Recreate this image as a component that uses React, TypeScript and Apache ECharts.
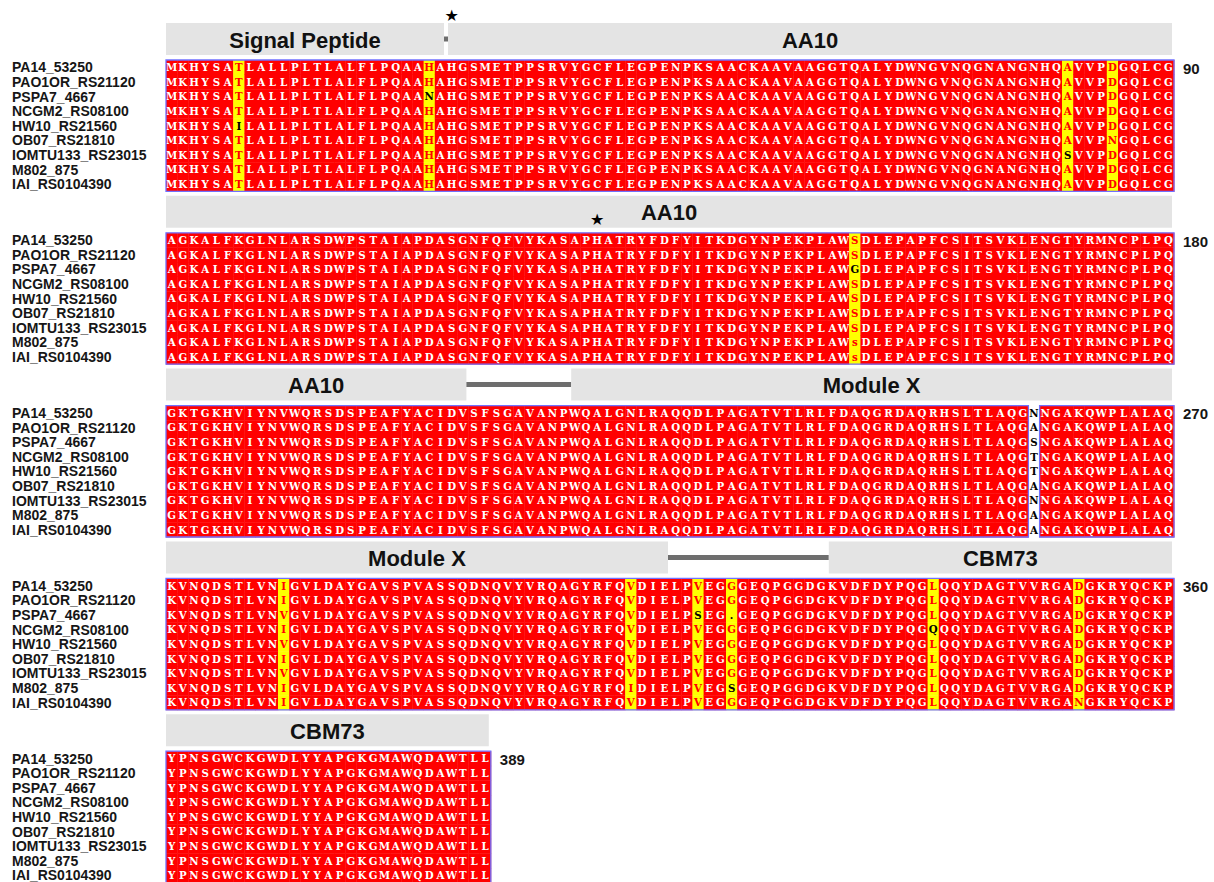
import React, { useEffect, useRef } from "react";
import * as echarts from "echarts";

// ---- data -------------------------------------------------------------

const strains = [
  "PA14_53250",
  "PAO1OR_RS21120",
  "PSPA7_4667",
  "NCGM2_RS08100",
  "HW10_RS21560",
  "OB07_RS21810",
  "IOMTU133_RS23015",
  "M802_875",
  "IAI_RS0104390",
];

// PA14_53250 sequence, one string per 90-residue line
const referenceLines = [
  "MKHYSATLALLPLTLALFLPQAAHAHGSMETPPSRVYGCFLEGPENPKSAACKAAVAAGGTQALYDWNGVNQGNANGNHQAVVPDGQLCG",
  "AGKALFKGLNLARSDWPSTAIAPDASGNFQFVYKASAPHATRYFDFYITKDGYNPEKPLAWSDLEPAPFCSITSVKLENGTYRMNCPLPQ",
  "GKTGKHVIYNVWQRSDSPEAFYACIDVSFSGAVANPWQALGNLRAQQDLPAGATVTLRLFDAQGRDAQRHSLTLAQGNNGAKQWPLALAQ",
  "KVNQDSTLVNIGVLDAYGAVSPVASSQDNQVYVRQAGYRFQVDIELPVEGGGEQPGGDGKVDFDYPQGLQQYDAGTVVRGADGKRYQCKP",
  "YPNSGWCKGWDLYYAPGKGMAWQDAWTLL",
];

// differences from PA14_53250: [strain, alignment position, residue]
const substitutions: [string, number, string][] = [
  ["HW10_RS21560", 7, "I"],
  ["PSPA7_4667", 24, "N"],
  ["IOMTU133_RS23015", 81, "S"],
  ["OB07_RS21810", 85, "N"],
  ["PSPA7_4667", 152, "G"],
  ["M802_875", 152, "s"],
  ["IAI_RS0104390", 152, "s"],
  ["PAO1OR_RS21120", 258, "A"],
  ["PSPA7_4667", 258, "S"],
  ["NCGM2_RS08100", 258, "T"],
  ["HW10_RS21560", 258, "T"],
  ["OB07_RS21810", 258, "A"],
  ["M802_875", 258, "A"],
  ["IAI_RS0104390", 258, "A"],
  ["PSPA7_4667", 281, "V"],
  ["HW10_RS21560", 281, "V"],
  ["IOMTU133_RS23015", 281, "V"],
  ["M802_875", 312, "I"],
  ["PSPA7_4667", 318, "S"],
  ["PSPA7_4667", 321, "."],
  ["M802_875", 321, "S"],
  ["NCGM2_RS08100", 339, "Q"],
  ["IAI_RS0104390", 352, "N"],
];

const domainNames = ["Signal Peptide", "AA10", "Module X", "CBM73"];
const domainStarts = [1, 26, 217, 330];
const domainEnds = [25, 207, 315, 389];

const starredResidues = [26, 129];

const similarGroups = ["ILMV", "DN", "EQ", "KR", "FYW", "ST"];

// ---- layout & style ---------------------------------------------------

const LINE = 90;
const CELL_W = 11.2;
const ROW_H = 14.6;
const GRID_LEFT = 166;
const FIRST_TOP = 60;
const BLOCK_PITCH = 172.8;
const BAR_GAP = 5;
const BAR_H = 32;
const STAR_OFFSETS = [-8, 24];

const RED = "#ff0000";
const YELLOW = "#ffff00";
const FRAME = "#7070ff";
const BAR = "#e4e4e4";
const LINKER = "#6e6e6e";
const SANS = "'Liberation Sans', Arial, Helvetica, sans-serif";
const RESIDUE_FONT = "'DejaVu Serif', serif";

// ---- derived alignment ------------------------------------------------

const seqs: string[][] = strains.map(() => referenceLines.join("").split(""));
substitutions.forEach(([s, pos, r]) => {
  seqs[strains.indexOf(s)][pos - 1] = r;
});
const total = seqs[0].length;
const nBlocks = Math.ceil(total / LINE);

// 0 identical (red), 1 similar (yellow, red letter), 2 dissimilar (yellow, black), 3 unframed
const columnKinds: number[][] = [];
for (let p = 0; p < total; p++) {
  const col = seqs.map((s) => s[p]);
  const up = col.map((c) => c.toUpperCase());
  if (col.every((c) => c === col[0])) {
    columnKinds.push(col.map(() => 0));
    continue;
  }
  const counts: Record<string, number> = {};
  up.forEach((c) => (counts[c] = (counts[c] || 0) + 1));
  const cons = Object.keys(counts).sort((a, b) => counts[b] - counts[a])[0];
  const sim = (c: string) =>
    c === cons || similarGroups.some((g) => g.includes(c) && g.includes(cons));
  const nSim = up.filter(sim).length;
  if (nSim / up.length < 0.7) columnKinds.push(col.map(() => 3));
  else columnKinds.push(up.map((c) => (sim(c) ? 1 : 2)));
}

type Piece = {
  kind: "domain" | "linker" | "star" | "num";
  c0: number;
  c1: number;
  text?: string;
  insetLeft?: number;
  idx?: number;
};

function blockPieces(k: number): Piece[] {
  const b0 = k * LINE + 1;
  const b1 = Math.min(total, (k + 1) * LINE);
  const pieces: Piece[] = [];
  domainNames.forEach((name, i) => {
    const s = Math.max(domainStarts[i], b0);
    const e = Math.min(domainEnds[i], b1);
    if (s <= e) {
      const realStart = s === domainStarts[i] && i > 0;
      pieces.push({ kind: "domain", c0: s - b0, c1: e - b0, text: name, insetLeft: realStart ? 2 : 0 });
    }
    if (i + 1 < domainNames.length) {
      const a = domainEnds[i];
      const b = domainStarts[i + 1];
      if (a >= b0 && b <= b1) pieces.push({ kind: "linker", c0: a - b0, c1: b - b0 });
    }
  });
  starredResidues.forEach((r, idx) => {
    if (r >= b0 && r <= b1) pieces.push({ kind: "star", c0: r - b0, c1: r - b0, idx });
  });
  pieces.push({ kind: "num", c0: b1 - b0, c1: b1 - b0, text: String(b1) });
  return pieces;
}

function buildOption() {
  const grids: any[] = [];
  const xAxes: any[] = [];
  const yAxes: any[] = [];
  const series: any[] = [];

  for (let k = 0; k < nBlocks; k++) {
    const b0 = k * LINE;
    const n = Math.min(LINE, total - b0);
    grids.push({
      left: GRID_LEFT,
      top: FIRST_TOP + k * BLOCK_PITCH,
      width: n * CELL_W,
      height: strains.length * ROW_H,
      outerBoundsMode: "none",
    });
    xAxes.push({
      type: "category",
      gridIndex: k,
      data: Array.from({ length: n }, (_, i) => String(b0 + i + 1)),
      show: false,
    });
    yAxes.push({
      type: "category",
      gridIndex: k,
      data: strains,
      inverse: true,
      axisLine: { show: false },
      axisTick: { show: false },
      splitLine: { show: false },
      axisLabel: {
        show: true,
        interval: 0,
        align: "left",
        margin: GRID_LEFT - 12,
        fontFamily: SANS,
        fontWeight: "bold",
        fontSize: 14,
        color: "#161616",
      },
    });

    // residue cells
    const cells: { col: number; row: number; ch: string; kind: number }[] = [];
    for (let c = 0; c < n; c++) {
      for (let r = 0; r < strains.length; r++) {
        cells.push({ col: c, row: r, ch: seqs[r][b0 + c], kind: columnKinds[b0 + c][r] });
      }
    }
    series.push({
      type: "custom",
      xAxisIndex: k,
      yAxisIndex: k,
      clip: false,
      data: cells.map((d) => [d.col, d.row]),
      renderItem: (params: any, api: any) => {
        const d = cells[params.dataIndex];
        const [x, y] = api.coord([d.col, d.row]);
        const w = api.size([1, 0])[0];
        const h = api.size([0, 1])[1];
        const bg = d.kind === 0 ? RED : d.kind === 3 ? "#ffffff" : YELLOW;
        const fg = d.kind === 0 ? "#ffffff" : d.kind === 1 ? RED : "#000000";
        return {
          type: "group",
          children: [
            {
              type: "rect",
              shape: { x: x - w / 2, y: y - h / 2, width: w + 0.4, height: h + 0.4 },
              style: { fill: bg },
            },
            {
              type: "text",
              x: x,
              y: y + 0.3,
              scaleX: 0.93,
              style: {
                text: d.ch,
                fill: fg,
                fontFamily: RESIDUE_FONT,
                fontWeight: "bold",
                fontSize: 11,
                align: "center",
                verticalAlign: "middle",
              },
            },
          ],
        };
      },
    });

    // frames around runs of coloured columns
    const runs: [number, number][] = [];
    let start = -1;
    for (let c = 0; c <= n; c++) {
      const framed = c < n && columnKinds[b0 + c][0] !== 3;
      if (framed && start < 0) start = c;
      if (!framed && start >= 0) {
        runs.push([start, c - 1]);
        start = -1;
      }
    }
    series.push({
      type: "custom",
      xAxisIndex: k,
      yAxisIndex: k,
      clip: false,
      data: runs.map((r) => [r[0], 0]),
      renderItem: (params: any, api: any) => {
        const [c0, c1] = runs[params.dataIndex];
        const w = api.size([1, 0])[0];
        const h = api.size([0, 1])[1];
        const p0 = api.coord([c0, 0]);
        const p1 = api.coord([c1, strains.length - 1]);
        return {
          type: "rect",
          shape: {
            x: p0[0] - w / 2,
            y: p0[1] - h / 2,
            width: p1[0] - p0[0] + w,
            height: p1[1] - p0[1] + h,
          },
          style: { fill: "none", stroke: FRAME, lineWidth: 1.3 },
        };
      },
    });

    // domain bars, linkers, stars and position numbers
    const pieces = blockPieces(k);
    series.push({
      type: "custom",
      xAxisIndex: k,
      yAxisIndex: k,
      clip: false,
      data: pieces.map((p) => [p.c0, 0]),
      renderItem: (params: any, api: any) => {
        const p = pieces[params.dataIndex];
        const w = api.size([1, 0])[0];
        const h = api.size([0, 1])[1];
        const a = api.coord([p.c0, 0]);
        const b = api.coord([p.c1, 0]);
        const top = a[1] - h / 2;
        const barTop = top - BAR_GAP - BAR_H;
        if (p.kind === "domain") {
          const left = a[0] - w / 2 + (p.insetLeft || 0);
          const right = b[0] + w / 2 - 2;
          return {
            type: "group",
            children: [
              {
                type: "rect",
                shape: { x: left, y: barTop, width: right - left, height: BAR_H },
                style: { fill: BAR },
              },
              {
                type: "text",
                x: (left + right) / 2,
                y: barTop + BAR_H / 2 + 1,
                style: {
                  text: p.text,
                  fill: "#111111",
                  fontFamily: SANS,
                  fontWeight: "bold",
                  fontSize: 22,
                  align: "center",
                  verticalAlign: "middle",
                },
              },
            ],
          };
        }
        if (p.kind === "linker") {
          const left = a[0] + w / 2 - 2;
          const right = b[0] - w / 2 + 2;
          return {
            type: "rect",
            shape: { x: left, y: barTop + BAR_H / 2 - 2.5, width: right - left, height: 5 },
            style: { fill: LINKER },
          };
        }
        if (p.kind === "star") {
          return {
            type: "text",
            x: a[0],
            y: barTop + STAR_OFFSETS[p.idx || 0],
            style: {
              text: "\u2605",
              fill: "#000000",
              fontFamily: "'DejaVu Sans', sans-serif",
              fontSize: 16,
              align: "center",
              verticalAlign: "middle",
            },
          };
        }
        return {
          type: "text",
          x: a[0] + w / 2 + 9,
          y: a[1] + 1,
          style: {
            text: p.text,
            fill: "#161616",
            fontFamily: SANS,
            fontWeight: "bold",
            fontSize: 15,
            align: "left",
            verticalAlign: "middle",
          },
        };
      },
    });
  }

  return {
    animation: false,
    backgroundColor: "#ffffff",
    grid: grids,
    xAxis: xAxes,
    yAxis: yAxes,
    series,
  };
}

export default function App() {
  const ref = useRef<HTMLDivElement>(null);
  useEffect(() => {
    if (!ref.current) return;
    const chart = echarts.init(ref.current, undefined, { renderer: "svg" });
    chart.setOption(buildOption());
    return () => chart.dispose();
  }, []);
  return (
    <div
      ref={ref}
      style={{ position: "absolute", left: 0, top: 0, width: 1214, height: 882, background: "#fff" }}
    />
  );
}
